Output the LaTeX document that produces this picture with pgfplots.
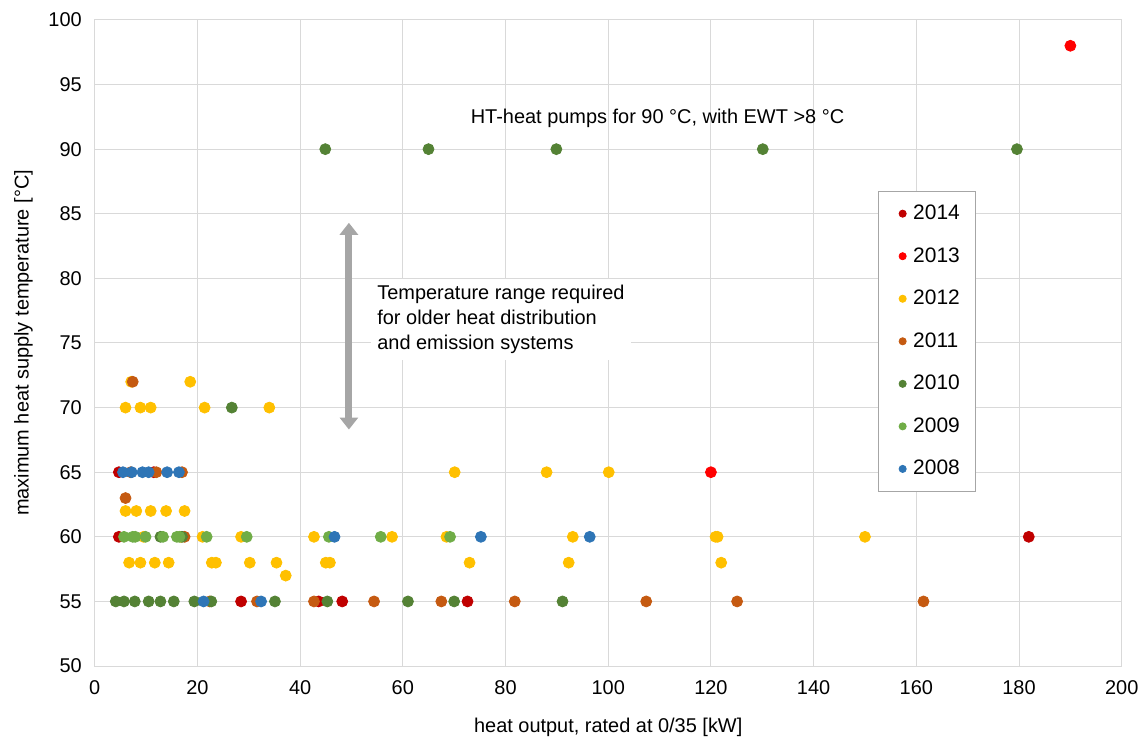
\documentclass[border=0pt]{standalone}
\usepackage{pgfplots}
\pgfplotsset{compat=1.18}
\usepackage{fontspec}
\setmainfont{Liberation Sans}
\usetikzlibrary{arrows.meta}

\definecolor{c2014}{HTML}{C00000}
\definecolor{c2013}{HTML}{FF0000}
\definecolor{c2012}{HTML}{FFC000}
\definecolor{c2011}{HTML}{C55A11}
\definecolor{c2010}{HTML}{548235}
\definecolor{c2009}{HTML}{70AD47}
\definecolor{c2008}{HTML}{2E75B6}
\definecolor{gridgray}{HTML}{D9D9D9}
\definecolor{arrowgray}{HTML}{A6A6A6}

\begin{document}
\begin{tikzpicture}
\begin{axis}[
    scale only axis,
    width=515pt, height=324pt,
    xmin=0, xmax=200, ymin=50, ymax=100,
    xtick distance=20, ytick distance=5,
    grid=major,
    grid style={gridgray, line width=0.5pt},
    axis line style={gridgray, line width=0.5pt},
    major tick length=0pt,
    tick label style={font=\fontsize{10}{12}\selectfont},
    yticklabel style={xshift=-3pt},
    xticklabel style={yshift=-4pt},
    /pgf/number format/assume math mode=true,
    xlabel={heat output, rated at 0/35 [kW]},
    ylabel={maximum heat supply temperature [°C]},
    label style={font=\fontsize{10}{12}\selectfont},
    xlabel style={yshift=-4.5pt},
    ylabel style={yshift=1pt},
    legend cell align=left,
    legend style={at={(axis cs:152.6,86.8)}, anchor=north west,
        draw=gray!70, fill=white, row sep=8.5pt,
        inner xsep=6pt, inner ysep=5pt,
        font=\fontsize{10.5}{12}\selectfont},
    legend image code/.code={\path[draw=none, fill=none] (0pt,0pt) -- (9.3pt,0pt);
        \draw[#1, mark size=1.8pt] plot coordinates {(6pt,0pt)};},
    every axis plot/.append style={only marks, mark=*, mark size=2.75pt},
]
% 2014
\addplot[color=c2014] coordinates {
 (4.7,65) (11.5,65) (4.7,60) (28.5,55) (43.6,55) (48.2,55) (72.6,55) (181.9,60)
};
% 2013
\addplot[color=c2013] coordinates {
 (190,98) (120,65)
};
% 2012
\addplot[color=c2012] coordinates {
 (7.1,72) (18.6,72)
 (6.0,70) (8.9,70) (10.9,70) (21.4,70) (34.0,70)
 (70.1,65) (88.0,65) (100.1,65)
 (6.0,62) (8.1,62) (10.9,62) (13.9,62) (17.5,62)
 (9.5,60) (16.8,60) (21.0,60) (28.5,60) (42.7,60) (57.9,60) (68.5,60) (93.1,60) (120.9,60) (121.3,60) (150.0,60)
 (6.7,58) (8.9,58) (11.7,58) (14.4,58) (22.8,58) (23.6,58) (30.2,58) (35.4,58) (45.0,58) (45.8,58) (73.0,58) (92.3,58) (122.0,58)
 (37.2,57)
};
% 2011
\addplot[color=c2011] coordinates {
 (7.4,72) (7.0,65) (12.0,65) (17.0,65) (6.0,63) (17.5,60)
 (22.4,55) (31.6,55) (42.7,55) (54.4,55) (67.5,55) (81.8,55) (107.4,55) (125.1,55) (161.4,55)
};
% 2010
\addplot[color=c2010] coordinates {
 (44.9,90) (65.0,90) (89.9,90) (130.1,90) (179.6,90)
 (26.7,70)
 (12.8,60) (17.0,60)
 (4.1,55) (5.7,55) (7.8,55) (10.5,55) (12.8,55) (15.4,55) (19.4,55) (22.7,55) (35.1,55) (45.3,55) (61.0,55) (70.0,55) (91.1,55)
};
% 2009
\addplot[color=c2009] coordinates {
 (5.7,60) (7.4,60) (7.9,60) (9.9,60) (13.3,60) (16.0,60) (16.5,60) (21.8,60) (29.6,60) (45.6,60) (55.7,60) (69.2,60)
};
% 2008
\addplot[color=c2008] coordinates {
 (5.5,65) (7.2,65) (9.3,65) (10.5,65) (14.1,65) (16.4,65)
 (46.7,60) (75.2,60) (96.4,60)
 (21.2,55) (32.4,55)
};
\legend{2014,2013,2012,2011,2010,2009,2008}

\draw[arrowgray, line width=3.5pt, {Triangle[width=9pt,length=6pt]}-{Triangle[width=9pt,length=6pt]}]
  (axis cs:49.5,68.3) -- (axis cs:49.5,84.3);
\node[fill=white, anchor=north west, align=left, inner sep=3pt,
      font=\fontsize{10}{12.5}\selectfont]
  at (axis cs:53.8,79.95) {Temperature range required\\for older heat distribution\\and emission systems};
\node[font=\fontsize{10}{12}\selectfont] at (axis cs:109.6,92.4)
  {HT-heat pumps for 90 °C, with EWT >8 °C};
\end{axis}
\path (current axis.north) ++(0,10pt);
\path (current axis.west) ++(-47.5pt,0);
\path (current axis.east) ++(8.5pt,0);
\end{tikzpicture}
\end{document}
